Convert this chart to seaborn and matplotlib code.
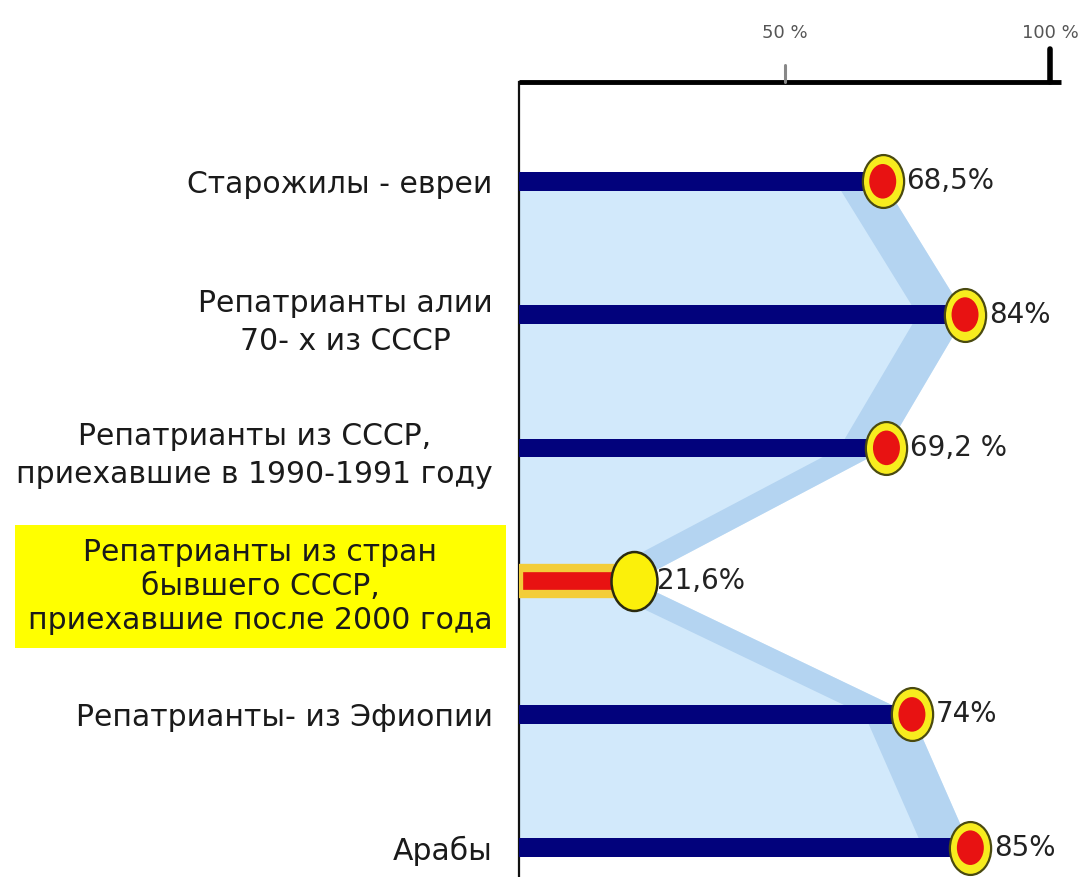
import numpy as np
import matplotlib
matplotlib.use("Agg")
import matplotlib.pyplot as plt
import seaborn as sns
from matplotlib.path import Path
from matplotlib.transforms import Affine2D

# Share of each group (percent)
categories = [
    "Старожилы - евреи",
    "Репатрианты алии\n70- х из СССР",
    "Репатрианты из СССР,\nприехавшие в 1990-1991 году",
    "Репатрианты из стран\nбывшего СССР,\nприехавшие после 2000 года",
    "Репатрианты- из Эфиопии",
    "Арабы",
]
values = [68.5, 84, 69.2, 21.6, 74, 85]
value_labels = ["68,5%", "84%", "69,2 %", "21,6%", "74%", "85%"]
tick_values = [50, 100]
tick_labels = ["50 %", "100 %"]
highlight = 3

sns.set_theme(style="white")
plt.rcParams["font.family"] = ["DejaVu Sans"]

NAVY = "#02027c"
RED = "#e81212"
YELLOW = "#f7ec1e"

fig = plt.figure(figsize=(10.88, 8.77), dpi=100)
ax = fig.add_axes([519 / 1088, 0.0, 569 / 1088, 1 - 82 / 877])

palette = [RED if i == highlight else NAVY for i in range(len(values))]
sns.barplot(x=values, y=categories, hue=categories, palette=palette, orient="h",
            width=0.14, legend=False, ax=ax, zorder=3, saturation=1,
            linewidth=0)

ypos = np.arange(len(values))
vals = np.array(values)

# light-blue shaded band linking the bar ends
ax.fill_betweenx(ypos, 0, vals, color="#d2e9fb", zorder=1, lw=0)
ax.fill_betweenx(ypos, vals - 9, vals, color="#b4d4f1", zorder=1, lw=0)

# highlighted bar: red core with a thick yellow frame
hp = ax.patches[highlight]
h = 0.2
hp.set_y(highlight - h / 2)
hp.set_height(h)
hp.set_edgecolor("#f3cd3a")
hp.set_linewidth(6)
hp.set_zorder(3)

# ellipse marker for the end points
ell = Path.unit_circle().transformed(Affine2D().scale(0.78, 1.0))
others = [i for i in range(len(values)) if i != highlight]
ax.scatter(vals[others], ypos[others], marker=ell, s=1450, color=YELLOW,
           edgecolor="#4a4a10", linewidth=1.6, zorder=5)
ax.scatter(vals[others], ypos[others], marker=ell, s=620, color=RED,
           edgecolor="none", zorder=6)
ax.scatter([vals[highlight]], [ypos[highlight]], marker=ell, s=1800, color="#fbf00a",
           edgecolor="#2a2a10", linewidth=1.8, zorder=5)

for i, (v, lab) in enumerate(zip(values, value_labels)):
    ax.annotate(lab, (v, i), xytext=(17, 0), textcoords="offset points",
                ha="left", va="center", fontsize=20, color="#222222", zorder=7)

ax.set_xlim(0, 569 / 531 * 100)
ax.set_ylim(5.22, -0.745)
ax.set_xlabel("")
ax.set_ylabel("")
ax.set_xticks([])

# category labels on the left
ax.tick_params(axis="y", length=0, pad=19)
for i, t in enumerate(ax.get_yticklabels()):
    t.set_fontsize(21.5)
    t.set_color("#1a1a1a")
    t.set_multialignment("center")
    t.set_linespacing(1.2 if i == highlight else 1.4)
    if i == highlight:
        t.set_bbox(dict(boxstyle="square,pad=0.45", facecolor="#ffff00",
                        edgecolor="none"))

for side in ["top", "right", "bottom"]:
    ax.spines[side].set_visible(False)
ax.spines["left"].set_color("#111111")
ax.spines["left"].set_linewidth(1.6)

# top scale line with its ticks
trans = ax.get_xaxis_transform()
ax.plot([0, 102], [1, 1], transform=trans, color="black", lw=3.5,
        clip_on=False, zorder=8, solid_capstyle="butt")
ax.plot([50, 50], [1, 1.022], transform=trans, color="#888888", lw=2.2,
        clip_on=False, zorder=8)
ax.plot([100, 100], [1, 1.042], transform=trans, color="black", lw=4,
        clip_on=False, zorder=8)
for tv, tl in zip(tick_values, tick_labels):
    ax.text(tv, 1.05, tl, transform=trans, ha="center", va="bottom",
            fontsize=13, color="#555555")

fig.savefig("out.png", dpi=100)
